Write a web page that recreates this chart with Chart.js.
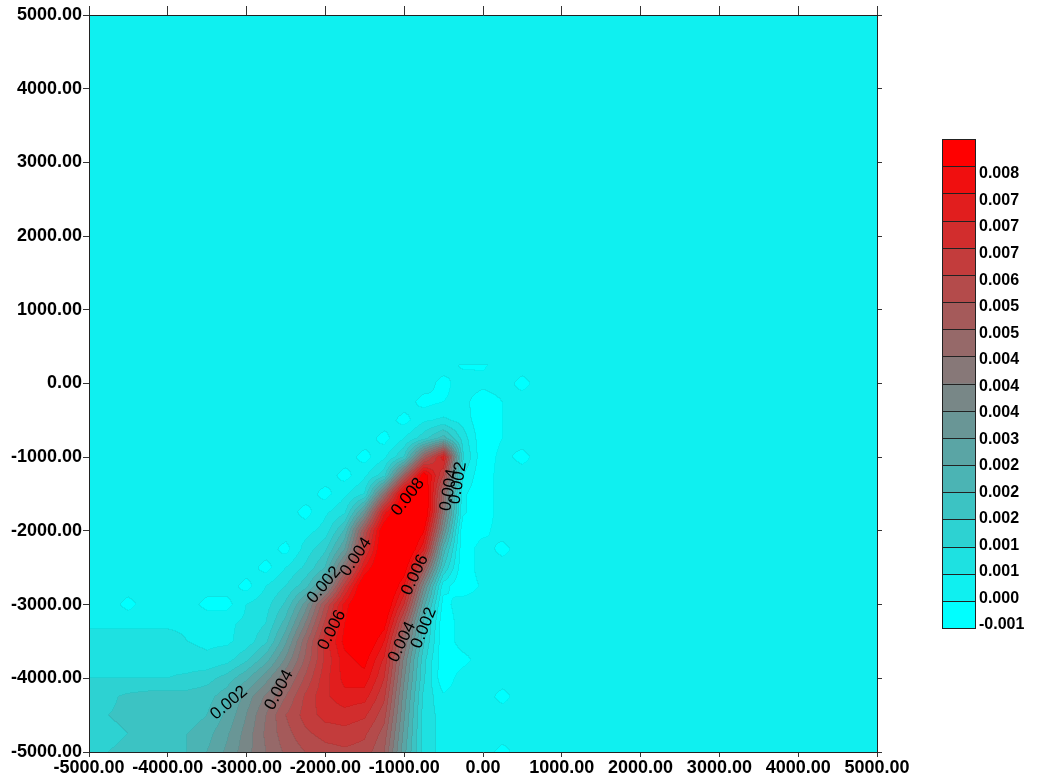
<!DOCTYPE html>
<html><head><meta charset="utf-8">
<script src="https://cdn.jsdelivr.net/npm/chart.js@4.4.0/dist/chart.umd.min.js"></script>
<style>html,body{margin:0;padding:0;background:#fff;}#wrap{width:1041px;height:783px;}</style>
</head><body><div id="wrap"><canvas id="c" width="1041" height="783"></canvas></div>
<script>
// ---- data ----
const xTicks = [-5000,-4000,-3000,-2000,-1000,0,1000,2000,3000,4000,5000];
const yTicks = [-5000,-4000,-3000,-2000,-1000,0,1000,2000,3000,4000,5000];
const gridX = [-5000,-4750,-4500,-4250,-4000,-3750,-3500,-3250,-3000,-2750,-2500,-2250,-2000,-1750,-1500,-1250,-1000,-750,-500,-250,0,250,500,750];
const gridY = [-5000,-4750,-4500,-4250,-4000,-3750,-3500,-3250,-3000,-2750,-2500,-2250,-2000,-1750,-1500,-1250,-1000,-750,-500,-250,0,250];
const valueUnit = 1e-4;          // grid values are in units of 0.0001
const backgroundValue = -2;      // value of the field outside the grid
const zRows = [
 [9,10,11,12,13,15,20,26,33,40,46,50,53,54,53,45,22,3,-2,-2,-2,-7,-2,-2],
 [8,9,10,11,13,15,18,24,32,41,48,54,57,58,56,48,24,3,-2,-2,-2,-2,-2,-2],
 [8,10,11,11,11,12,15,21,30,40,50,57,62,63,61,52,26,3,-2,-2,-2,-2,-2,-2],
 [7,9,11,12,12,12,13,18,27,36,45,56,64,68,67,56,28,4,-4,-2,-2,-7,-2,-2],
 [5,5,5,5,5,6,8,12,19,28,39,51,63,72,73,60,31,6,-9,-2,-2,-2,-2,-2],
 [3,3,3,3,3,2,1,3,9,18,31,46,61,73,77,64,34,7,-9,-7,-2,-2,-2,-2],
 [2,2,2,2,2,0,-1,-1,2,9,24,43,62,77,83,70,40,11,-9,-2,-2,-2,-2,-2],
 [-1,-1,-1,-1,-1,-1,-1,-1,1,5,17,35,56,75,86,78,48,14,-9,-2,-2,-2,-2,-2],
 [-2,-2,-7,-2,-2,-2,-7,-7,0,3,11,27,50,72,87,84,60,22,-7,-2,-2,-2,-2,-2],
 [-2,-2,-2,-2,-2,-2,-2,-2,-7,0,5,13,28,58,84,88,70,32,-3,-9,-4,-2,-2,-2],
 [-2,-2,-2,-2,-2,-2,-2,-2,-2,-7,0,6,15,40,70,86,80,48,10,-9,-2,-2,-2,-2],
 [-2,-2,-2,-2,-2,-2,-2,-2,-2,-2,-7,2,9,25,58,84,88,66,18,-9,-2,-7,-2,-2],
 [-2,-2,-2,-2,-2,-2,-2,-2,-2,-2,-2,-2,2,16,50,82,90,76,30,-9,-7,-2,-2,-2],
 [-2,-2,-2,-2,-2,-2,-2,-2,-2,-2,-2,-7,-1,4,28,68,88,86,38,-4,-9,-2,-2,-2],
 [-2,-2,-2,-2,-2,-2,-2,-2,-2,-2,-2,-2,-7,-1,5,40,80,86,42,-4,-9,-2,-2,-2],
 [-2,-2,-2,-2,-2,-2,-2,-2,-2,-2,-2,-2,-2,-7,-1,8,45,80,55,0,-9,-2,-2,-2],
 [-2,-2,-2,-2,-2,-2,-2,-2,-2,-2,-2,-2,-2,-2,-7,-1,10,45,68,6,-9,-3,-7,-2],
 [-2,-2,-2,-2,-2,-2,-2,-2,-2,-2,-2,-2,-2,-2,-2,-7,0,8,18,3,-9,-5,-2,-2],
 [-2,-2,-2,-2,-2,-2,-2,-2,-2,-2,-2,-2,-2,-2,-2,-2,-7,-1,1,-2,-9,-5,-2,-2],
 [-2,-2,-2,-2,-2,-2,-2,-2,-2,-2,-2,-2,-2,-2,-2,-2,-2,-7,-5,-3,-9,-5,-2,-2],
 [-2,-2,-2,-2,-2,-2,-2,-2,-2,-2,-2,-2,-2,-2,-2,-2,-2,-2,-7,-2,-3,-2,-7,-2],
 [-2,-2,-2,-2,-2,-2,-2,-2,-2,-2,-2,-2,-2,-2,-2,-2,-2,-2,-2,-6,-6,-2,-2,-2]
];
// contour level lower bounds (18 bands, bottom to top)
const levels = [-0.0010,-0.0005,0.0000,0.0005,0.0010,0.0015,0.0020,0.0025,0.0030,0.0035,0.0040,0.0045,0.0050,0.0055,0.0060,0.0065,0.0070,0.0075];
const colorbarLabels = ['0.008','0.007','0.007','0.007','0.006','0.005','0.005','0.004','0.004','0.004','0.003','0.002','0.002','0.002','0.001','0.001','0.000','-0.001'];
const contourLabels = [
 {text:'0.002', x:-3223, y:-4335, angle:-40},
 {text:'0.004', x:-2589, y:-4159, angle:-62},
 {text:'0.006', x:-1916, y:-3345, angle:-63},
 {text:'0.002', x:-2018, y:-2734, angle:-50},
 {text:'0.004', x:-1612, y:-2354, angle:-56},
 {text:'0.008', x:-952,  y:-1540, angle:-52},
 {text:'0.006', x:-863,  y:-2598, angle:-65},
 {text:'0.004', x:-1028, y:-3507, angle:-64},
 {text:'0.002', x:-749,  y:-3318, angle:-68},
 {text:'0.004', x:-431,  y:-1445, angle:-80},
 {text:'0.002', x:-317,  y:-1350, angle:-81}
];

// ---- styles ----
const FONT = "'Liberation Sans', Arial, Helvetica, sans-serif";
const bandColors = levels.map((_, k) => {
  const t = k / (levels.length - 1);
  return [Math.round(255 * t), Math.round(255 * (1 - t)), Math.round(255 * (1 - t))];
});

function fracIndex(arr, v) {
  if (v < arr[0] || v > arr[arr.length - 1]) return -1;
  for (let k = 0; k < arr.length - 1; k++) {
    if (v <= arr[k + 1]) return k + (v - arr[k]) / (arr[k + 1] - arr[k]);
  }
  return arr.length - 1;
}
function sampleField(fc, fr) {
  if (fc < 0 || fr < 0) return backgroundValue * valueUnit;
  const c0 = Math.min(Math.floor(fc), gridX.length - 2);
  const r0 = Math.min(Math.floor(fr), gridY.length - 2);
  const tx = fc - c0, ty = fr - r0;
  const a = zRows[r0][c0], b = zRows[r0][c0 + 1], c = zRows[r0 + 1][c0], d = zRows[r0 + 1][c0 + 1];
  return ((a * (1 - tx) + b * tx) * (1 - ty) + (c * (1 - tx) + d * tx) * ty) * valueUnit;
}
function bandOf(v) {
  let k = 0;
  for (let i = 0; i < levels.length; i++) if (v >= levels[i] - 1e-12) k = i;
  return k;
}

const fieldPlugin = {
  id: 'field',
  beforeDatasetsDraw(chart) {
    const { ctx, chartArea: a } = chart;
    const sx = chart.scales.x, sy = chart.scales.y;
    const L = Math.round(a.left), T = Math.round(a.top);
    const W = Math.round(a.right) - L, H = Math.round(a.bottom) - T;
    const colIdx = new Float64Array(W), rowIdx = new Float64Array(H);
    for (let i = 0; i < W; i++) colIdx[i] = fracIndex(gridX, sx.getValueForPixel(L + i + 0.5));
    for (let j = 0; j < H; j++) rowIdx[j] = fracIndex(gridY, sy.getValueForPixel(T + j + 0.5));
    const band = new Int8Array(W * H);
    for (let j = 0; j < H; j++) for (let i = 0; i < W; i++) band[j * W + i] = bandOf(sampleField(colIdx[i], rowIdx[j]));
    const img = ctx.createImageData(W, H);
    const px = img.data;
    for (let j = 0; j < H; j++) for (let i = 0; i < W; i++) {
      const k = band[j * W + i];
      let f = 1;
      if ((i + 1 < W && band[j * W + i + 1] !== k) || (j + 1 < H && band[(j + 1) * W + i] !== k)) f = 0.94;
      const col = bandColors[k], o = (j * W + i) * 4;
      px[o] = col[0] * f; px[o + 1] = col[1] * f; px[o + 2] = col[2] * f; px[o + 3] = 255;
    }
    ctx.putImageData(img, L, T);
  },
  afterDatasetsDraw(chart) {
    const { ctx } = chart;
    const sx = chart.scales.x, sy = chart.scales.y;
    ctx.save();
    ctx.fillStyle = '#000';
    ctx.font = "17px " + FONT;
    ctx.textAlign = 'center';
    ctx.textBaseline = 'middle';
    contourLabels.forEach(l => {
      ctx.save();
      ctx.translate(sx.getPixelForValue(l.x), sy.getPixelForValue(l.y));
      ctx.rotate(l.angle * Math.PI / 180);
      ctx.fillText(l.text, 0, 0);
      ctx.restore();
    });
    ctx.restore();
  },
  afterDraw(chart) {
    const { ctx, chartArea: a } = chart;
    const left = a.right + 65, top = 139, w = 33, h = 489;
    const n = bandColors.length, bh = h / n;
    ctx.save();
    for (let i = 0; i < n; i++) {
      const col = bandColors[n - 1 - i];
      ctx.fillStyle = `rgb(${col[0]},${col[1]},${col[2]})`;
      ctx.fillRect(left, top + i * bh, w, bh + 0.5);
    }
    ctx.strokeStyle = '#222';
    ctx.lineWidth = 1;
    for (let i = 1; i < n; i++) {
      const y = Math.round(top + i * bh) + 0.5;
      ctx.beginPath(); ctx.moveTo(left, y); ctx.lineTo(left + w, y); ctx.stroke();
    }
    ctx.strokeRect(left + 0.5, top + 0.5, w, h);
    ctx.fillStyle = '#000';
    ctx.font = "bold 16px " + FONT;
    ctx.textAlign = 'left';
    ctx.textBaseline = 'middle';
    const first = 174, last = 625;
    colorbarLabels.forEach((t, i) => {
      ctx.fillText(t, left + 37, first + (last - first) * i / (colorbarLabels.length - 1));
    });
    ctx.restore();
  }
};

const points = [];
gridY.forEach((y, r) => gridX.forEach((x, c) => points.push({ x: x, y: y, v: zRows[r][c] * valueUnit })));

const tickFont = { family: FONT, size: 18, weight: 'bold' };
function axis(pos, opts) {
  return Object.assign({
    type: 'linear', position: pos, min: -5000, max: 5000,
    grid: { drawOnChartArea: false, drawTicks: true, tickLength: 6, color: '#333', lineWidth: 1 },
    border: { display: true, color: '#222', width: 1, z: 1 }
  }, opts);
}

new Chart(document.getElementById('c').getContext('2d'), {
  type: 'scatter',
  data: { datasets: [{ label: 'field', data: points, pointRadius: 0, pointHoverRadius: 0, showLine: false }] },
  options: {
    responsive: false, animation: false, devicePixelRatio: 1, events: [],
    layout: { padding: 0 },
    plugins: { legend: { display: false }, tooltip: { enabled: false } },
    scales: {
      x: axis('bottom', {
        afterBuildTicks: s => { s.ticks = xTicks.map(v => ({ value: v })); },
        ticks: { callback: v => Number(v).toFixed(2), font: tickFont, color: '#000', maxRotation: 0, autoSkip: false, padding: 0 },
        grid: { drawOnChartArea: false, tickLength: 5, color: '#333' },
        afterFit: s => { s.height = 31; }
      }),
      y: axis('left', {
        afterBuildTicks: s => { s.ticks = yTicks.map(v => ({ value: v })); },
        ticks: { callback: v => Number(v).toFixed(2), font: tickFont, color: '#000', autoSkip: false, padding: 1 },
        grid: { drawOnChartArea: false, tickLength: 6, color: '#333' },
        afterFit: s => { s.width = 89; }
      }),
      x2: axis('top', {
        afterBuildTicks: s => { s.ticks = xTicks.map(v => ({ value: v })); },
        ticks: { display: false },
        grid: { drawOnChartArea: false, tickLength: 9, color: '#333' },
        afterFit: s => { s.height = 15; }
      }),
      y2: axis('right', {
        afterBuildTicks: s => { s.ticks = yTicks.map(v => ({ value: v })); },
        ticks: { display: false },
        grid: { drawOnChartArea: false, tickLength: 5, color: '#333' },
        afterFit: s => { s.width = 164; }
      })
    }
  },
  plugins: [fieldPlugin]
});
</script></body></html>
